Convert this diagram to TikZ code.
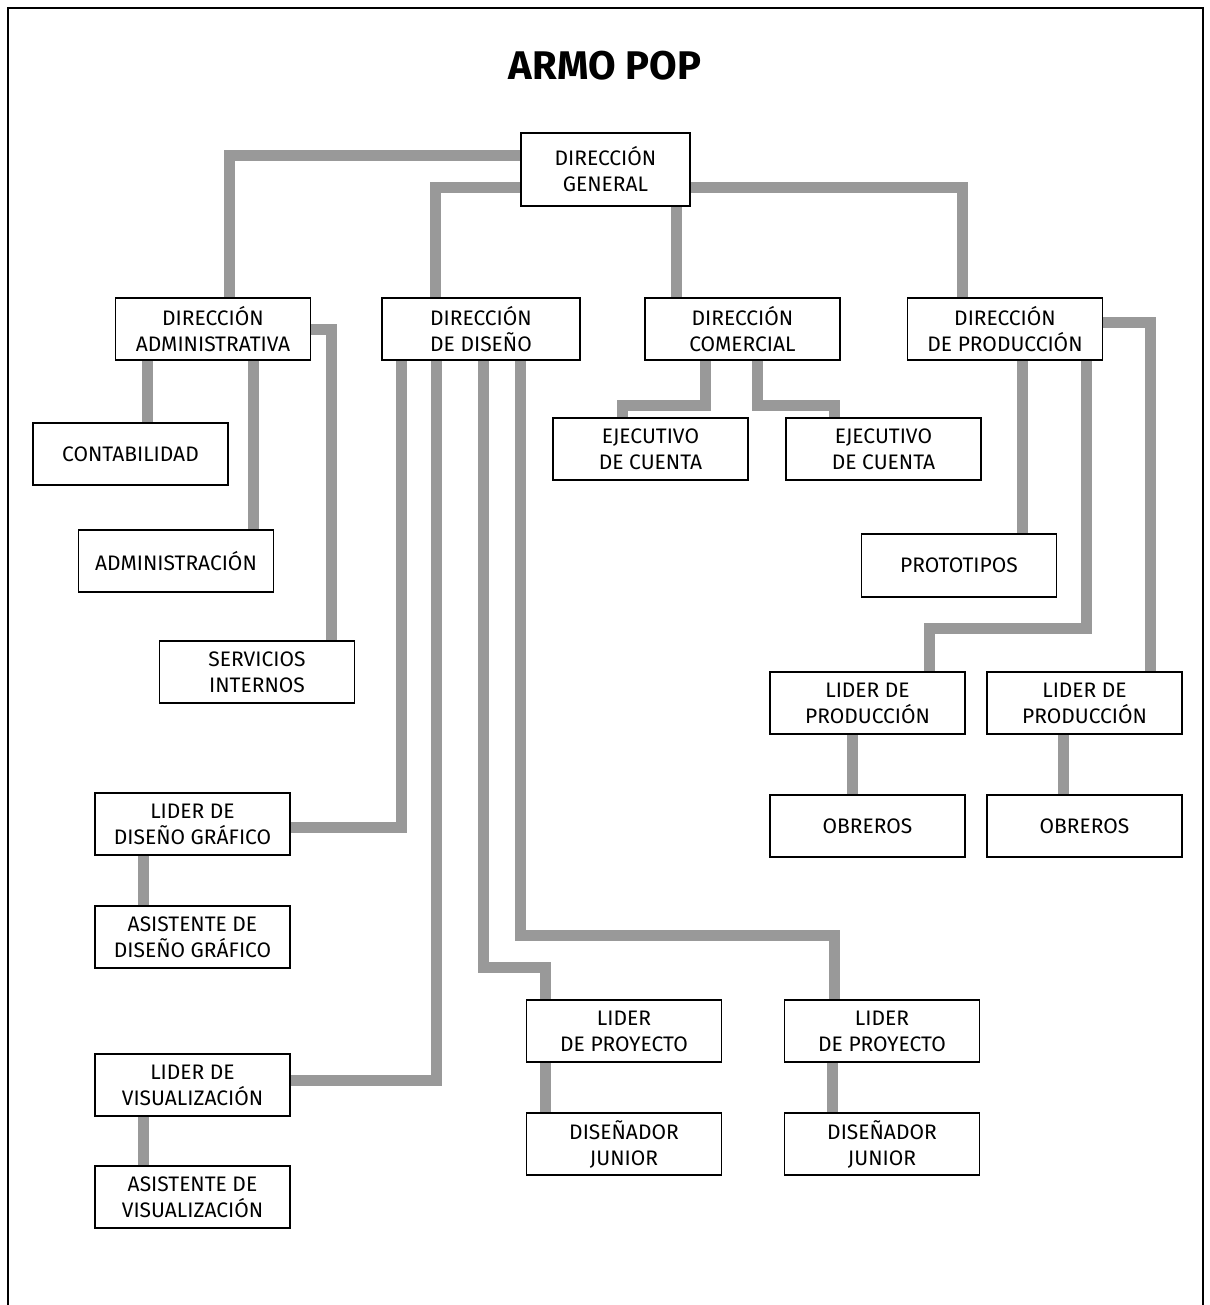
\documentclass[tikz,border=0pt]{standalone}
\usepackage{fontspec}
\setmainfont{Fira Sans}
\usetikzlibrary{backgrounds}
\definecolor{conng}{gray}{0.6}
\begin{document}
\begin{tikzpicture}[x=1pt,y=-1pt,
  bx/.style={draw=black, line width=1.8pt, fill=white, minimum width=195pt,
    minimum height=62pt, inner sep=0pt, align=center,
    font=\fontsize{21}{26}\selectfont},
  conn/.style={draw=conng, line width=11pt, line join=miter, line cap=butt},
  frame/.style={draw=black, line width=1.5pt}]
\useasboundingbox (0,0) rectangle (1209,1305);
\draw[frame] (8,1305) -- (8,8) -- (1203,8) -- (1203,1305);
\node[font=\fontsize{40}{44}\selectfont\bfseries] (title) at (605,66) {ARMO POP};

\node[bx, minimum width=169pt, minimum height=73pt] (dg) at (605.5,169.5) {DIRECCIÓN\\GENERAL};
\node[bx] (da) at (213,329) {DIRECCIÓN\\ADMINISTRATIVA};
\node[bx, minimum width=198pt] (dd) at (481,329) {DIRECCIÓN\\DE DISEÑO};
\node[bx] (dc) at (742.5,329) {DIRECCIÓN\\COMERCIAL};
\node[bx] (dp) at (1005,329) {DIRECCIÓN\\DE PRODUCCIÓN};
\node[bx] (cont) at (130.5,454) {CONTABILIDAD};
\node[bx] (adm) at (176,561) {ADMINISTRACIÓN};
\node[bx] (serv) at (257,672) {SERVICIOS\\INTERNOS};
\node[bx] (ej1) at (650.5,449) {EJECUTIVO\\DE CUENTA};
\node[bx] (ej2) at (883.5,449) {EJECUTIVO\\DE CUENTA};
\node[bx, minimum height=63pt] (prot) at (959,565.5) {PROTOTIPOS};
\node[bx] (lpr1) at (867.5,703) {LIDER DE\\PRODUCCIÓN};
\node[bx] (lpr2) at (1084.5,703) {LIDER DE\\PRODUCCIÓN};
\node[bx] (ob1) at (867.5,826) {OBREROS};
\node[bx] (ob2) at (1084.5,826) {OBREROS};
\node[bx] (ldg) at (192.5,824) {LIDER DE\\DISEÑO GRÁFICO};
\node[bx] (adg) at (192.5,937) {ASISTENTE DE\\DISEÑO GRÁFICO};
\node[bx] (lv) at (192.5,1085) {LIDER DE\\VISUALIZACIÓN};
\node[bx] (av) at (192.5,1197) {ASISTENTE DE\\VISUALIZACIÓN};
\node[bx] (lp1) at (624,1031) {LIDER\\DE PROYECTO};
\node[bx] (dj1) at (624,1144) {DISEÑADOR\\JUNIOR};
\node[bx] (lp2) at (882,1031) {LIDER\\DE PROYECTO};
\node[bx] (dj2) at (882,1144) {DISEÑADOR\\JUNIOR};

\coordinate (b1) at (545,967);
\coordinate (b2) at (834,935);
\coordinate (b3) at (622,405);
\coordinate (b4) at (834,405);
\coordinate (b5) at (929,628);

\begin{scope}[on background layer]
\draw[conn] (dg.west |- 0,156) -| (da.north -| 229,0);
\draw[conn] (dg.west |- 0,188) -| (dd.north -| 435,0);
\draw[conn] (dg.south -| 676,0) -- (dc.north -| 676,0);
\draw[conn] (dg.east |- 0,188) -| (dp.north -| 962,0);
\draw[conn] (da.south -| 147,0) -- (cont.north -| 147,0);
\draw[conn] (da.south -| 253,0) -- (adm.north -| 253,0);
\draw[conn] (da.east |- 0,329) -| (serv.north -| 331,0);
\draw[conn] (dd.south -| 401,0) |- (ldg.east |- 0,827);
\draw[conn] (dd.south -| 436,0) |- (lv.east |- 0,1080);
\draw[conn] (dd.south -| 483,0) |- (b1) -- (lp1.north -| b1);
\draw[conn] (dd.south -| 520,0) |- (b2) -- (lp2.north -| b2);
\draw[conn] (dc.south -| 705,0) |- (b3) -- (ej1.north -| b3);
\draw[conn] (dc.south -| 757,0) |- (b4) -- (ej2.north -| b4);
\draw[conn] (dp.south -| 1022,0) -- (prot.north -| 1022,0);
\draw[conn] (dp.south -| 1086,0) |- (b5) -- (lpr1.north -| b5);
\draw[conn] (dp.east |- 0,322) -| (lpr2.north -| 1150,0);
\draw[conn] (lpr1.south -| 852,0) -- (ob1.north -| 852,0);
\draw[conn] (lpr2.south -| 1063,0) -- (ob2.north -| 1063,0);
\draw[conn] (ldg.south -| 143,0) -- (adg.north -| 143,0);
\draw[conn] (lv.south -| 143,0) -- (av.north -| 143,0);
\draw[conn] (lp1.south -| 545,0) -- (dj1.north -| 545,0);
\draw[conn] (lp2.south -| 832,0) -- (dj2.north -| 832,0);
\end{scope}
\end{tikzpicture}
\end{document}
